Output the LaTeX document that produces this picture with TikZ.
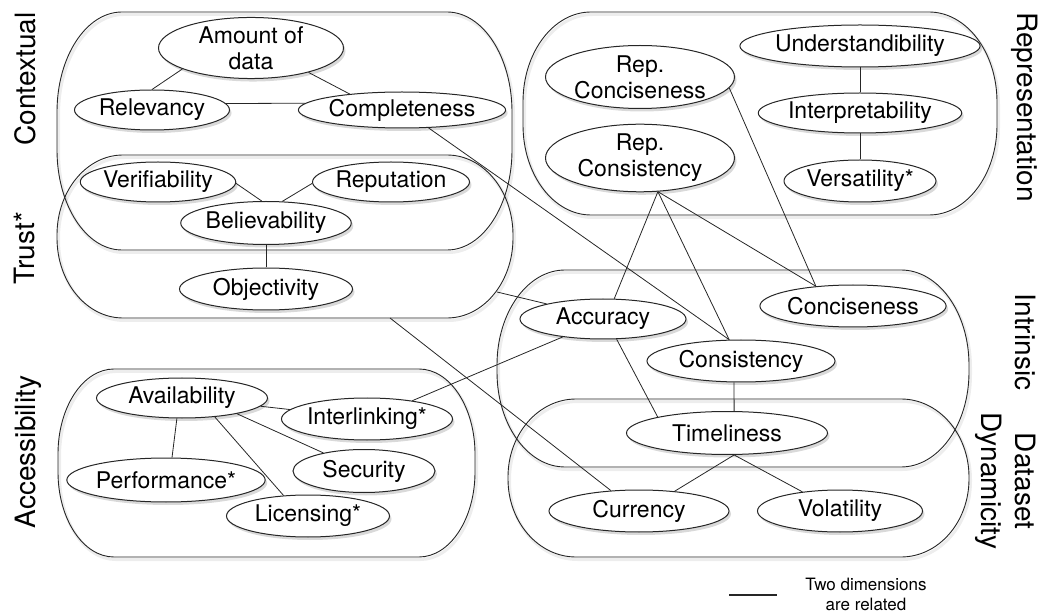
\documentclass[tikz,border=0pt]{standalone}
\usepackage{fontspec}
\setmainfont{TeX Gyre Heros}
\usetikzlibrary{shapes.geometric,shadows}
% group box with elliptical corners: style, x1, y1, x2, y2, rx, ry
\newcommand\grpbox[7]{%
  \draw[#1] ({#2+#6},#3) -- ({#4-#6},#3)
    arc[start angle=90,end angle=0,x radius=#6pt,y radius=#7pt]
    -- (#4,{#5-#7})
    arc[start angle=0,end angle=-90,x radius=#6pt,y radius=#7pt]
    -- ({#2+#6},#5)
    arc[start angle=-90,end angle=-180,x radius=#6pt,y radius=#7pt]
    -- (#2,{#3+#7})
    arc[start angle=180,end angle=90,x radius=#6pt,y radius=#7pt]
    -- cycle;}
\begin{document}
\begin{tikzpicture}[x=1pt,y=-1pt,
  dim/.style={ellipse,draw=black!85,line width=1pt,fill=white,inner sep=0pt,
    align=center,font=\fontsize{23}{26}\selectfont,
    drop shadow={shadow xshift=2pt,shadow yshift=-3pt,opacity=0.3}},
  grp/.style={draw=black!85,line width=0.9pt},
  grpshadow/.style={draw=black,line width=3pt,opacity=0.07},
  side/.style={font=\fontsize{28}{30}\selectfont,inner sep=0pt},
  rel/.style={draw=black!85,line width=0.8pt},
  legend/.style={font=\fontsize{17}{20}\selectfont,align=center,inner sep=0pt}]
\useasboundingbox (0,0) rectangle (1042,612);

% group boxes: shadows
\begin{scope}[shift={(1.5,2.5)}]
\grpbox{grpshadow}{57}{12}{512}{250}{65}{100}
\grpbox{grpshadow}{57}{155}{513}{318}{66}{80}
\grpbox{grpshadow}{523}{12}{997}{215}{68}{90}
\grpbox{grpshadow}{497}{270}{969}{467}{68}{95}
\grpbox{grpshadow}{508}{399}{969}{557}{68}{78}
\grpbox{grpshadow}{58}{369}{475}{557}{56}{85}
\end{scope}
% group boxes
\grpbox{grp}{57}{12}{512}{250}{65}{100}
\grpbox{grp}{57}{155}{513}{318}{66}{80}
\grpbox{grp}{523}{12}{997}{215}{68}{90}
\grpbox{grp}{497}{270}{969}{467}{68}{95}
\grpbox{grp}{508}{399}{969}{557}{68}{78}
\grpbox{grp}{58}{369}{475}{557}{56}{85}

% side labels
\node[side,rotate=90] (lcontext) at (25,79) {Contextual};
\node[side,rotate=90] (ltrust) at (25,248) {Trust*};
\node[side,rotate=90] (lacc) at (28,452) {Accessibility};
\node[side,rotate=-90] (lrep) at (1025,107) {Representation};
\node[side,rotate=-90] (lintr) at (1025,342) {Intrinsic};
\node[side,rotate=-90] (ldataset) at (1025,481) {Dataset};
\node[side,rotate=-90] (ldyn) at (989,481) {Dynamicity};

% dimensions
\node[dim,minimum width=185pt,minimum height=53pt] (amount) at (251,48) {Amount of\\data};
\node[dim,minimum width=155pt,minimum height=40pt] (relv) at (152,110) {Relevancy};
\node[dim,minimum width=207pt,minimum height=36pt] (comp) at (402,110) {Completeness};
\node[dim,minimum width=153pt,minimum height=40pt] (ver) at (158,182) {Verifiability};
\node[dim,minimum width=152pt,minimum height=40pt] (rept) at (391,182) {Reputation};
\node[dim,minimum width=163pt,minimum height=43pt] (bel) at (266,223) {Believability};
\node[dim,minimum width=173pt,minimum height=42pt] (obj) at (266,289) {Objectivity};
\node[dim,minimum width=189pt,minimum height=63pt] (repconc) at (640,77) {Rep.\\Conciseness};
\node[dim,minimum width=189pt,minimum height=63pt] (repcons) at (640,158) {Rep.\\Consistency};
\node[dim,minimum width=227pt,minimum height=42pt] (und) at (860,46) {Understandibility};
\node[dim,minimum width=193pt,minimum height=40pt] (interp) at (860,113) {Interpretability};
\node[dim,minimum width=149pt,minimum height=42pt] (vers) at (860,181) {Versatility*};
\node[dim,minimum width=178pt,minimum height=42pt] (concise) at (853,306) {Conciseness};
\node[dim,minimum width=166pt,minimum height=40pt] (accu) at (603,319) {Accuracy};
\node[dim,minimum width=188pt,minimum height=42pt] (cons) at (741,361) {Consistency};
\node[dim,minimum width=201pt,minimum height=43pt] (tim) at (727,433) {Timeliness};
\node[dim,minimum width=180pt,minimum height=42pt] (cur) at (639,511) {Currency};
\node[dim,minimum width=165pt,minimum height=42pt] (vol) at (840,511) {Volatility};
\node[dim,minimum width=171pt,minimum height=40pt] (avail) at (182,398) {Availability};
\node[dim,minimum width=171pt,minimum height=42pt] (interl) at (367,419) {Interlinking*};
\node[dim,minimum width=188pt,minimum height=44pt] (perf) at (166,480) {Performance*};
\node[dim,minimum width=142pt,minimum height=43pt] (secu) at (364,471) {Security};
\node[dim,minimum width=163pt,minimum height=42pt] (lic) at (308,516) {Licensing*};

% free ends on group boxes
\coordinate (trustR) at (497,292);
\coordinate (trustB) at (390,318);

% relations
\draw[rel] (amount.-163) -- (relv.north);
\draw[rel] (amount.-23) -- (comp.163);
\draw[rel] (relv.5) -- (comp.176);
\draw[rel] (ver.-1) -- (bel.101);
\draw[rel] (rept.181) -- (bel.53);
\draw[rel] (bel.south) -- (obj.north);
\draw[rel] (comp.-34) -- (cons.119);
\draw[rel] (trustR) -- (accu.165);
\draw[rel] (trustB) -- (cur.144);
\draw[rel] (repcons.-62) -- (accu.61);
\draw[rel] (repcons.-62) -- (cons.119);
\draw[rel] (repcons.-62) -- (concise.152);
\draw[rel] (repconc.-7) -- (concise.152);
\draw[rel] (und.south) -- (interp.north);
\draw[rel] (interp.south) -- (vers.north);
\draw[rel] (interl.22) -- (accu.-156);
\draw[rel] (accu.-56) -- (tim.167);
\draw[rel] (cons.-108) -- (tim.72);
\draw[rel] (tim.-72) -- (cur.29);
\draw[rel] (tim.-72) -- (vol.153);
\draw[rel] (avail.-104) -- (perf.75);
\draw[rel] (avail.-30) -- (lic.140);
\draw[rel] (avail.-16) -- (secu.156);
\draw[rel] (avail.-6) -- (interl.173);

% legend
\coordinate (leg1) at (729,595);
\coordinate (leg2) at (777,595);
\draw[rel,line width=1.2pt] (leg1) -- (leg2);
\node[legend] (legtext) at (866,594) {Two dimensions\\are related};
\end{tikzpicture}
\end{document}
